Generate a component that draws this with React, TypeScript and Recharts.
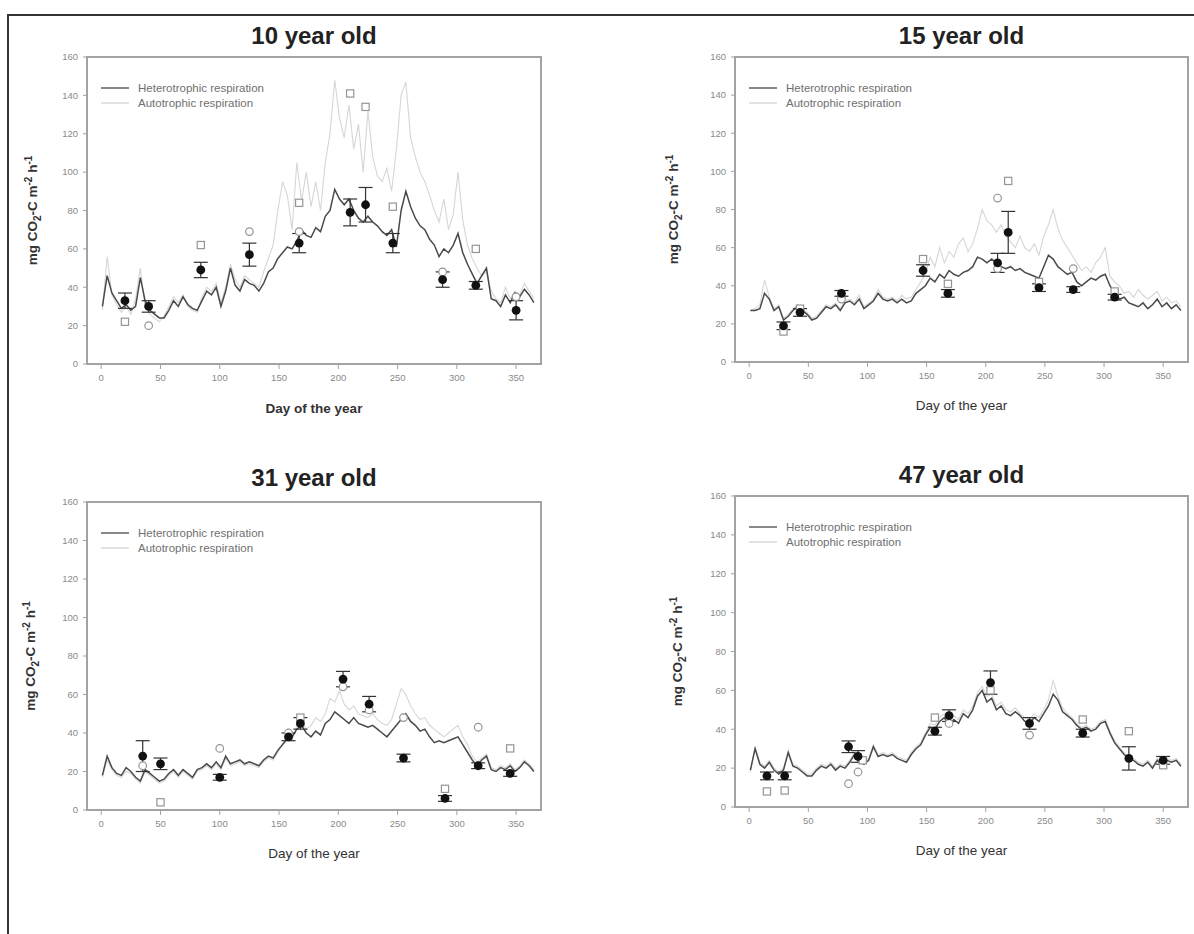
import { ComposedChart, Line, Scatter, ErrorBar, XAxis, YAxis, ReferenceArea } from "recharts";

// sampling days shared by all modelled series (every 4th day)
const days = [
  1, 5, 9, 13, 17, 21, 25, 29, 33, 37,
  41, 45, 49, 53, 57, 61, 65, 69, 73, 77,
  81, 85, 89, 93, 97, 101, 105, 109, 113, 117,
  121, 125, 129, 133, 137, 141, 145, 149, 153, 157,
  161, 165, 169, 173, 177, 181, 185, 189, 193, 197,
  201, 205, 209, 213, 217, 221, 225, 229, 233, 237,
  241, 245, 249, 253, 257, 261, 265, 269, 273, 277,
  281, 285, 289, 293, 297, 301, 305, 309, 313, 317,
  321, 325, 329, 333, 337, 341, 345, 349, 353, 357,
  361, 365,
];

const xTicks = [0, 50, 100, 150, 200, 250, 300, 350];
const yTicks = [0, 20, 40, 60, 80, 100, 120, 140, 160];

// 10 year old
const het10 = [
  30, 46, 37, 33, 29, 31, 28, 30, 45, 33,
  28, 26, 24, 24, 28, 33, 30, 35, 31, 29,
  28, 33, 38, 36, 40, 30, 38, 50, 41, 38,
  44, 42, 41, 38, 42, 48, 50, 55, 58, 61,
  60, 64, 70, 67, 66, 71, 69, 77, 80, 91,
  86, 83, 86, 80, 76, 74, 77, 74, 72, 69,
  67, 70, 61, 80, 90, 82, 76, 72, 70, 65,
  62, 56, 60, 58, 62, 68, 58, 52, 47, 42,
  46, 50, 34, 33, 30, 36, 32, 37, 35, 39,
  36, 32,
];
const aut10 = [
  28, 56, 36, 31, 27, 30, 26, 34, 50, 30,
  26, 24, 22, 25, 30, 35, 32, 36, 30, 28,
  27, 35, 40, 38, 42, 32, 40, 52, 44, 40,
  46, 44, 42, 40, 48, 55, 62, 80, 95, 88,
  70, 105, 85, 100, 82, 95, 80, 105, 120, 148,
  128, 118, 135, 112, 125, 100, 132, 108, 98, 95,
  102, 90, 112, 140, 147, 118, 108, 100, 95, 88,
  80, 74, 86, 70, 78, 100, 75, 62, 55, 50,
  46, 48, 38, 34, 32, 40, 34, 38, 36, 42,
  38, 34,
];
const obsDays10 = [20, 40, 84, 125, 167, 210, 223, 246, 288, 316, 350];
const obsMean10 = [33, 30, 49, 57, 63, 79, 83, 63, 44, 41, 28];
const obsErr10 = [4, 3, 4, 6, 5, 7, 9, 5, 4, 2, 5];
const squares10 = [[20, 22], [84, 62], [167, 84], [210, 141], [223, 134], [246, 82], [316, 60]];
const circles10 = [[40, 20], [125, 69], [167, 69], [288, 48], [350, 35]];

// 15 year old
const het15 = [
  27, 27, 28, 36, 33, 27, 29, 22, 24, 27,
  29, 27, 25, 22, 23, 26, 29, 28, 30, 27,
  31, 32, 30, 33, 28, 30, 32, 36, 33, 32,
  33, 31, 33, 31, 32, 36, 38, 40, 44, 42,
  46, 44, 48, 46, 45, 47, 48, 50, 55, 54,
  52, 54, 52, 50, 49, 50, 48, 49, 47, 46,
  45, 44, 50, 56, 54, 50, 48, 46, 47, 42,
  40, 42, 44, 43, 45, 46, 40, 36, 33, 34,
  31, 30, 29, 31, 28, 30, 33, 29, 31, 28,
  30, 27,
];
const aut15 = [
  27, 28, 30, 43, 34, 28, 30, 23, 25, 28,
  30, 28, 26, 23, 24, 27, 30, 29, 31, 28,
  32, 33, 31, 35, 29, 31, 33, 38, 34, 33,
  34, 32, 35, 33, 34, 38, 42, 46, 55, 50,
  60, 52, 58, 55, 62, 65, 58, 62, 70, 80,
  74, 72, 68, 72, 66, 63, 60, 66, 60, 58,
  62, 56, 66, 72, 80, 70, 64, 60, 56, 52,
  48, 50, 47, 52, 55, 60, 45, 42, 40, 36,
  37, 34, 38, 35, 33, 35, 37, 32, 34, 31,
  32, 29,
];
const obsDays15 = [29, 43, 78, 147, 168, 210, 219, 245, 274, 309];
const obsMean15 = [19, 26, 36, 48, 36, 52, 68, 39, 38, 34];
const obsErr15 = [2, 2, 1.5, 3, 2, 5, 11, 2, 1.5, 1.5];
const squares15 = [[29, 16], [43, 28], [147, 54], [168, 41], [219, 95], [245, 42], [309, 37]];
const circles15 = [[78, 33], [210, 86], [210, 49], [274, 49]];

// 31 year old
const het31 = [
  18, 28, 22, 19, 18, 22, 20, 17, 15, 21,
  19, 17, 15, 16, 19, 21, 18, 21, 19, 17,
  21, 22, 24, 22, 25, 22, 28, 24, 25, 26,
  24, 25, 24, 23, 26, 28, 27, 31, 34, 37,
  38, 42, 44, 40, 38, 41, 39, 45, 47, 51,
  49, 47, 45, 48, 45, 44, 43, 44, 42, 40,
  38, 41, 44, 47, 50, 46, 44, 41, 42, 38,
  35, 36, 35, 36, 37, 38, 34, 30, 26, 23,
  26, 28, 21, 20, 22, 21, 23, 20, 22, 25,
  23, 20,
];
const aut31 = [
  17, 26, 21, 18, 17, 20, 19, 16, 14, 20,
  18, 16, 14, 15, 18, 20, 17, 20, 18, 16,
  20, 21, 23, 21, 24, 21, 27, 23, 24, 25,
  23, 24, 23, 22, 25, 27, 26, 30, 34, 40,
  36, 44, 46, 42, 44, 48, 46, 50, 58, 56,
  62, 55, 52, 54, 50, 49, 48, 50, 47, 45,
  44, 47, 55, 63, 60, 54, 50, 47, 48, 44,
  42, 40, 38, 40, 42, 44, 38, 34, 28, 25,
  27, 29, 22, 21, 23, 22, 24, 21, 23, 26,
  24, 21,
];
const obsDays31 = [35, 50, 100, 158, 168, 204, 226, 255, 290, 318, 345];
const obsMean31 = [28, 24, 17, 38, 45, 68, 55, 27, 6, 23, 19];
const obsErr31 = [8, 3, 1.5, 2, 3, 4, 4, 2, 1.5, 1.5, 1.5];
const squares31 = [[50, 4], [168, 48], [290, 11], [345, 32]];
const circles31 = [[35, 23], [100, 32], [158, 40], [204, 64], [226, 52], [255, 48], [318, 43]];

// 47 year old
const het47 = [
  19, 30, 22, 20, 23, 19, 17, 19, 28, 21,
  20, 18, 16, 16, 19, 21, 20, 22, 19, 21,
  20, 23, 27, 24, 22, 24, 31, 26, 27, 26,
  27, 25, 24, 23, 27, 30, 32, 37, 41, 40,
  44, 46, 42, 45, 43, 48, 46, 50, 57, 60,
  54, 56, 50, 52, 48, 47, 49, 47, 44, 43,
  46, 44, 48, 52, 58, 55, 49, 47, 45, 42,
  40, 41, 39, 40, 43, 44, 38, 33, 30, 27,
  25, 24, 22, 21, 23, 20, 24, 21, 24, 23,
  24, 21,
];
const aut47 = [
  18, 31, 23, 21, 24, 20, 18, 20, 29, 22,
  21, 19, 17, 17, 20, 22, 21, 23, 20, 22,
  21, 24, 28, 25, 23, 25, 32, 27, 28, 27,
  28, 26, 25, 24, 28, 31, 33, 38, 43, 42,
  46, 48, 44, 47, 45, 50, 48, 52, 59, 62,
  57, 58, 52, 54, 50, 49, 51, 48, 46, 45,
  48, 46, 50, 55, 65, 57, 51, 48, 46, 43,
  41, 42, 40, 41, 44, 45, 39, 34, 31, 28,
  26, 25, 23, 22, 24, 21, 25, 22, 25, 24,
  25, 22,
];
const obsDays47 = [15, 30, 84, 92, 157, 169, 204, 237, 282, 321, 350];
const obsMean47 = [16, 16, 31, 26, 39, 47, 64, 43, 38, 25, 24];
const obsErr47 = [2, 2, 3, 3, 2, 3, 6, 3, 2, 6, 2];
const squares47 = [[15, 8], [30, 8.5], [96, 24], [157, 46], [204, 60], [282, 45], [321, 39], [350, 21.5]];
const circles47 = [[84, 12], [92, 18], [169, 43], [237, 37]];

const FONT = "'Liberation Sans', Arial, Helvetica, sans-serif";
const AXIS = "#a3a3a3";

const panels = [
  {
    title: "10 year old", het: het10, aut: aut10, obsDays: obsDays10, obsMean: obsMean10, obsErr: obsErr10,
    squares: squares10, circles: circles10,
    left: 87, top: 57, right: 541, bottom: 364, titleY: 44, xLabelY: 413, xBold: true, yLabelX: 37,
  },
  {
    title: "15 year old", het: het15, aut: aut15, obsDays: obsDays15, obsMean: obsMean15, obsErr: obsErr15,
    squares: squares15, circles: circles15,
    left: 735, top: 57, right: 1188, bottom: 362, titleY: 44, xLabelY: 410, xBold: false, yLabelX: 678,
  },
  {
    title: "31 year old", het: het31, aut: aut31, obsDays: obsDays31, obsMean: obsMean31, obsErr: obsErr31,
    squares: squares31, circles: circles31,
    left: 87, top: 502, right: 541, bottom: 810, titleY: 486, xLabelY: 858, xBold: false, yLabelX: 35,
  },
  {
    title: "47 year old", het: het47, aut: aut47, obsDays: obsDays47, obsMean: obsMean47, obsErr: obsErr47,
    squares: squares47, circles: circles47,
    left: 735, top: 496, right: 1188, bottom: 807, titleY: 483, xLabelY: 855, xBold: false, yLabelX: 682,
  },
];

const filledDot = (p: any) => <circle cx={p.cx} cy={p.cy} r={4.4} fill="#111" />;
const openSquare = (p: any) => (
  <rect x={p.cx - 3.6} y={p.cy - 3.6} width={7.2} height={7.2} fill="#fff" stroke="#959595" strokeWidth={1.2} />
);
const openCircle = (p: any) => <circle cx={p.cx} cy={p.cy} r={3.8} fill="#fff" stroke="#959595" strokeWidth={1.2} />;

function Panel({ p }: { p: any }) {
  const plotW = p.right - p.left;
  const plotH = p.bottom - p.top;
  const rows = days.map((d, i) => ({ day: d, het: p.het[i], aut: p.aut[i] }));
  const means = p.obsDays.map((d: number, i: number) => ({ day: d, val: p.obsMean[i], err: p.obsErr[i] }));
  const sq = p.squares.map(([d, v]: number[]) => ({ day: d, val: v }));
  const ci = p.circles.map(([d, v]: number[]) => ({ day: d, val: v }));
  const tick = { fontSize: 9.5, fill: "#8a8a8a", fontFamily: FONT };

  return (
    <div style={{ position: "absolute", left: p.left - 60, top: p.top - 10 }}>
      <ComposedChart width={plotW + 70} height={plotH + 50} data={rows} margin={{ top: 10, right: 10, bottom: 10, left: 20 }}>
        <XAxis
          type="number"
          dataKey="day"
          domain={[-12, 371]}
          ticks={xTicks}
          interval={0}
          allowDataOverflow
          height={30}
          tick={tick}
          tickSize={5}
          tickMargin={5}
          tickLine={{ stroke: AXIS }}
          axisLine={{ stroke: AXIS, strokeWidth: 2 }}
        />
        <YAxis
          type="number"
          domain={[0, 160]}
          ticks={yTicks}
          interval={0}
          allowDataOverflow
          width={40}
          tick={tick}
          tickSize={4}
          tickMargin={5}
          tickLine={{ stroke: AXIS }}
          axisLine={{ stroke: AXIS, strokeWidth: 2 }}
        />
        <ReferenceArea x1={-12} x2={371} y1={0} y2={160} fill="none" fillOpacity={0} stroke={AXIS} strokeWidth={2} />
        <Line dataKey="aut" stroke="#d6d6d6" strokeWidth={1.1} dot={false} activeDot={false} isAnimationActive={false} />
        <Line dataKey="het" stroke="#4a4a4a" strokeWidth={1.5} dot={false} activeDot={false} isAnimationActive={false} />
        <Scatter data={sq} dataKey="val" shape={openSquare} isAnimationActive={false} />
        <Scatter data={ci} dataKey="val" shape={openCircle} isAnimationActive={false} />
        <Scatter data={means} dataKey="val" shape={filledDot} isAnimationActive={false}>
          <ErrorBar dataKey="err" direction="y" width={7} stroke="#333" strokeWidth={1.2} isAnimationActive={false} />
        </Scatter>
      </ComposedChart>
    </div>
  );
}

function Overlay() {
  return (
    <svg width={1194} height={934} style={{ position: "absolute", left: 0, top: 0, pointerEvents: "none" }} fontFamily={FONT}>
      <line x1={8} y1={15} x2={8} y2={934} stroke="#333" strokeWidth={2} />
      <line x1={7} y1={15} x2={1194} y2={15} stroke="#333" strokeWidth={2} />
      {panels.map((p) => {
        const cx = (p.left + p.right) / 2;
        const cy = (p.top + p.bottom) / 2;
        const lx = p.left + 14;
        const ly = p.top + 31;
        return (
          <g key={p.title}>
            <text x={cx} y={p.titleY} textAnchor="middle" fontSize={24} fontWeight="bold" fill="#222">
              {p.title}
            </text>
            <text x={cx} y={p.xLabelY} textAnchor="middle" fontSize={13.5} fontWeight={p.xBold ? "bold" : "normal"} fill="#333">
              Day of the year
            </text>
            <text transform={`translate(${p.yLabelX},${cy}) rotate(-90)`} textAnchor="middle" fontSize={13.5} fontWeight="bold" fill="#333">
              mg CO<tspan dy={4} fontSize={10}>2</tspan>
              <tspan dy={-4}>-C m</tspan>
              <tspan dy={-5} fontSize={10}>-2</tspan>
              <tspan dy={5}> h</tspan>
              <tspan dy={-5} fontSize={10}>-1</tspan>
            </text>
            <line x1={lx} y1={ly} x2={lx + 28} y2={ly} stroke="#555" strokeWidth={1.4} />
            <text x={lx + 37} y={ly + 4} fontSize={11.5} fill="#707070">Heterotrophic respiration</text>
            <line x1={lx} y1={ly + 15} x2={lx + 28} y2={ly + 15} stroke="#d6d6d6" strokeWidth={1.4} />
            <text x={lx + 37} y={ly + 19} fontSize={11.5} fill="#707070">Autotrophic respiration</text>
          </g>
        );
      })}
    </svg>
  );
}

export default function App() {
  return (
    <div style={{ position: "absolute", left: 0, top: 0, width: 1194, height: 934, background: "#fff", fontFamily: FONT }}>
      {panels.map((p) => (
        <Panel key={p.title} p={p} />
      ))}
      <Overlay />
    </div>
  );
}
